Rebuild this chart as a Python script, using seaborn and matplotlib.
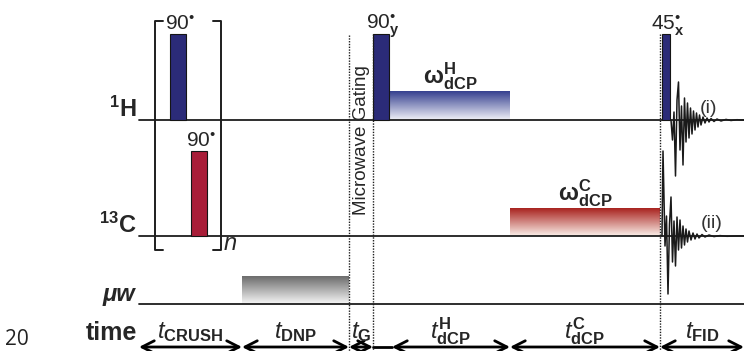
import numpy as np
import matplotlib
matplotlib.use("Agg")
import matplotlib.pyplot as plt
from matplotlib.colors import LinearSegmentedColormap
import seaborn as sns

# CONFIG
sns.set_theme(style="white")
plt.rcParams["font.family"] = ["Liberation Sans", "DejaVu Sans"]
plt.rcParams["mathtext.fontset"] = "custom"
plt.rcParams["mathtext.rm"] = "Liberation Sans"
plt.rcParams["mathtext.it"] = "Liberation Sans:italic"
plt.rcParams["mathtext.bf"] = "Liberation Sans:bold"

# DATA (time in arbitrary units, amplitudes in arbitrary units)
segment_labels = [r"$\mathit{t}_{\mathbf{CRUSH}}$", r"$\mathit{t}_{\mathbf{DNP}}$",
                  r"$\mathit{t}_{\mathbf{G}}$", r"$\mathit{t}^{\mathbf{H}}_{\mathbf{dCP}}$",
                  r"$\mathit{t}^{\mathbf{C}}_{\mathbf{dCP}}$", r"$\mathit{t}_{\mathbf{FID}}$"]
segment_durations = [103, 107, 24, 137, 150, 84]

channels = ["1H", "13C", "uw"]
channel_labels = [r"$^{\mathbf{1}}\mathbf{H}$", r"$^{\mathbf{13}}\mathbf{C}$", "\u03bcw"]

# hard pulses
pulse_channel = ["1H", "13C", "1H", "1H"]
pulse_start = [31, 52, 234, 523]
pulse_width = [16, 16, 16, 8]
pulse_amp = [86, 85, 86, 86]
pulse_labels = ["90$^{\u2022}$", "90$^{\u2022}$",
                "90$^{\u2022}_{\\mathbf{y}}$", "45$^{\u2022}_{\\mathbf{x}}$"]

# ramped / shaped blocks
block_channel = ["1H", "13C", "uw"]
block_start = [251, 371, 103]
block_end = [371, 521, 210]
block_amp = [29, 28, 28]
block_labels = [r"$\mathbf{\omega}^{\mathbf{H}}_{\mathbf{dCP}}$", r"$\mathbf{\omega}^{\mathbf{C}}_{\mathbf{dCP}}$", ""]

# FID traces (extremes)
fid_i_t = [0, 1.5, 3, 4.5, 6, 7.5, 9, 10.5, 12, 13.5, 15, 16.5, 18, 19.5, 21, 22.5, 24, 25.5, 27, 28.5,
           30, 32, 34, 36, 38, 40, 43, 46, 50, 55, 60, 66, 70, 73]
fid_i_amp = [0, -20, 8, -56, 20, 38, -30, 14, -45, 22, -22, 17, -18, 12, -14, 9, -10, 7, -7, 5,
             -5, 3, -3, 2, -2, 1.5, -1.5, 1, -1, 0.6, -0.5, 0.3, 0, 0]
fid_ii_t = [0, 1, 3, 4.5, 6, 7.5, 9, 10.5, 12, 13.5, 15, 16.5, 18, 19.5, 21, 22.5, 24, 25.5, 27, 29,
            31, 33, 35, 37, 40, 43, 47, 52, 58, 65, 74, 82]
fid_ii_amp = [0, 85, -10, 20, -58, 12, 39, -26, 15, -30, 19, -14, 16, -12, 10, -9, 7, -6, 5, -4,
              3, -3, 2, -2, 1.5, -1, 1, -0.6, 0.4, -0.3, 0, 0]

# LAYOUT
baseline = {"1H": 120, "13C": 236, "uw": 304}
x_left = -139
x_right = 605
time_y = 347
edges = np.concatenate([[0], np.cumsum(segment_durations)])
arrow_lead = [0, 0, 0, 19, 0, 0]

pulse_colors = {"1H": "#2b2b78", "13C": "#a81d38"}
block_cmaps = {
    "1H": LinearSegmentedColormap.from_list("b", ["#35408f", "#f0f1f8"]),
    "13C": LinearSegmentedColormap.from_list("r", ["#a8231f", "#fbefe9"]),
    "uw": LinearSegmentedColormap.from_list("g", ["#6c6c6c", "#f6f6f6"]),
}

fig = plt.figure(figsize=(7.44, 3.51), dpi=100)
ax = fig.add_axes([0, 0, 1, 1])

# channel baselines
for ch, lab in zip(channels, channel_labels):
    b = baseline[ch]
    ax.plot([0, x_right], [b, b], color="#1e1e1e", lw=1.3, zorder=2)
    if ch == "uw":
        ax.text(-4, b - 3, lab, ha="right", va="baseline", fontsize=17,
                fontweight="bold", fontstyle="italic")
    else:
        ax.text(-2, b - 3, lab, ha="right", va="baseline", fontsize=17)
ax.text(-2, 340, "time", ha="right", va="baseline", fontsize=18, fontweight="bold")
ax.text(-134, 350, "20", ha="left", va="bottom", fontsize=15, color="#222222",
        family=["Open Sans", "DejaVu Sans"])

# shaped blocks (gradient)
grad = np.linspace(0, 1, 200).reshape(-1, 1)
for ch, s, e, a, lab in zip(block_channel, block_start, block_end, block_amp, block_labels):
    b = baseline[ch]
    ax.imshow(grad, extent=[s, e, b, b - a], cmap=block_cmaps[ch], aspect="auto",
              origin="upper", zorder=1, interpolation="bilinear")
    if lab:
        ax.text((s + e) / 2, b - a - 8, lab, ha="center", va="baseline", fontsize=17)

# hard pulses
for ch, s, w, a, lab in zip(pulse_channel, pulse_start, pulse_width, pulse_amp, pulse_labels):
    b = baseline[ch]
    ax.bar(s, -a, bottom=b, width=w, align="edge", color=pulse_colors[ch],
           edgecolor="#151515", lw=0.8, zorder=3)
    ax.text(s + w / 2 + 2, b - a - 4, lab, ha="center", va="baseline", fontsize=15)

# repetition bracket
br_x0, br_x1, br_top, br_bot = 16, 82, 21, 250
for bx, sgn in [(br_x0, 1), (br_x1, -1)]:
    ax.plot([bx + sgn * 8, bx, bx, bx + sgn * 8], [br_top, br_top, br_bot, br_bot],
            color="#1e1e1e", lw=1.4, zorder=2)
ax.text(br_x1 + 3, 250, "n", fontsize=17, fontstyle="italic", va="baseline")

# FIDs
fid_i = np.array(fid_i_t) + 532
fid_ii = np.array(fid_ii_t) + 523
sns.lineplot(x=fid_i, y=baseline["1H"] - np.array(fid_i_amp), ax=ax, sort=False,
             color="#1a1a1a", lw=1.1, zorder=4)
sns.lineplot(x=fid_ii, y=baseline["13C"] - np.array(fid_ii_amp), ax=ax, sort=False,
             color="#1a1a1a", lw=1.1, zorder=4)
ax.text(561, 113, "(i)", fontsize=14, color="#333333", va="baseline")
ax.text(562, 228, "(ii)", fontsize=14, color="#333333", va="baseline")

# gating lines
for xg, top in [(edges[2], 35), (edges[3], 34), (edges[5], 34)]:
    ax.plot([xg, xg], [top, 351], color="#1e1e1e", lw=1.0, ls=(0, (1, 1)), zorder=5)
ax.text((edges[2] + edges[3]) / 2, 140, "Microwave Gating", rotation=90,
        ha="center", va="center", fontsize=13.5)

# time arrows
for i, lab in enumerate(segment_labels):
    x0, x1 = edges[i] + arrow_lead[i], edges[i + 1]
    if arrow_lead[i]:
        ax.plot([edges[i], x0], [time_y, time_y], color="black", lw=2)
    ax.annotate("", xy=(x1, time_y), xytext=(x0, time_y),
                arrowprops=dict(arrowstyle="<->,head_length=0.55,head_width=0.28",
                                lw=2, color="black", shrinkA=0, shrinkB=0,
                                mutation_scale=16))
    ax.text((x0 + x1) / 2, 338, lab, ha="center", va="baseline", fontsize=17)

ax.set_xlim(x_left, x_right)
ax.set_ylim(351, 0)
ax.axis("off")

plt.savefig("out.png", dpi=100)
